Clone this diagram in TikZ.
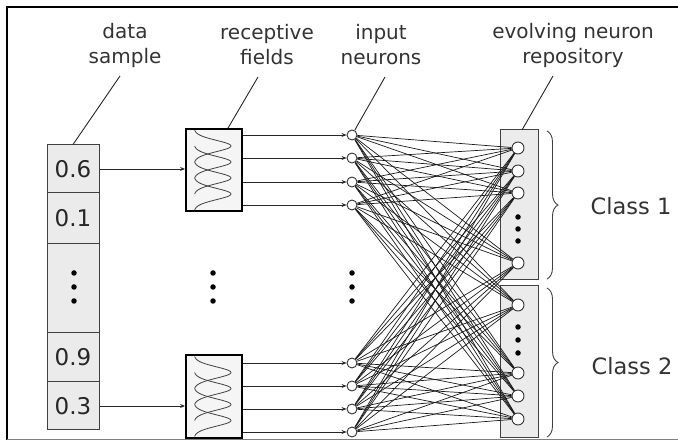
\documentclass[tikz,border=0pt]{standalone}
\usepackage{fontspec}
\setmainfont{DejaVu Sans}
\usetikzlibrary{arrows.meta,decorations.pathreplacing}
\pgfdeclarelayer{bg}
\pgfdeclarelayer{mid}
\pgfsetlayers{bg,mid,main}
\tikzset{
  cell/.style={draw=black!75, line width=1pt, fill=black!8, minimum width=52pt, inner sep=0pt, font=\fontsize{23}{23}\selectfont, text=black!85},
  rfbox/.style={draw=black, line width=1.8pt, fill=black!4, minimum width=56pt, inner sep=0pt},
  inneuron/.style={circle, draw=black!80, line width=0.9pt, fill=white, minimum size=10pt, inner sep=0pt},
  outneuron/.style={circle, draw=black!80, line width=0.9pt, fill=white, minimum size=12pt, inner sep=0pt},
  vdot/.style={circle, fill=black, minimum size=5.5pt, inner sep=0pt},
  repbox/.style={draw=black!75, line width=1pt, fill=black!8, minimum width=38pt, inner sep=0pt},
  lbl/.style={align=center, font=\fontsize{20}{25}\selectfont, text=black!80},
  cls/.style={font=\fontsize{22.5}{25}\selectfont, text=black!80},
  leader/.style={line width=0.9pt, black!85},
  feed/.style={line width=0.9pt, black!85, -{Stealth[length=5pt,width=4pt]}},
  conn/.style={line width=0.7pt, black!90},
  gauss/.style={line width=0.8pt, black!75}
}
\begin{document}
\begin{tikzpicture}[x=1pt,y=-1pt]
\useasboundingbox (0,0) rectangle (678,443);
% frame
\draw[line width=2pt] (7,440) -- (7,7) -- (678,7);
\draw[black!50, line width=1pt] (7,440) -- (678,440);

% data sample column
\node[cell, minimum height=48pt] (d1) at (73,169) {0.6};
\node[cell, minimum height=51pt] (d2) at (73,218.5) {0.1};
\node[cell, minimum height=89pt] (d3) at (73,288.5) {};
\node[cell, minimum height=49pt] (d4) at (73,357.5) {0.9};
\node[cell, minimum height=48pt] (d5) at (73,406) {0.3};
\node[vdot] (dd1) at (74,273) {};
\node[vdot] (dd2) at (74,287) {};
\node[vdot] (dd3) at (74,301) {};

% receptive field boxes
\node[rfbox, minimum height=82pt] (rf1) at (214,170) {};
\node[rfbox, minimum height=83pt] (rf2) at (214,396.5) {};
\foreach \cy in {170,396.5}{
  \begin{scope}[shift={(214,\cy)}]
    \foreach \c in {-24,-8,8,24}{
      \draw[gauss] plot[domain=-16:16, samples=41, smooth] ({-20+37*exp(0-(\x/8)*(\x/8))}, {\c+\x});
    }
  \end{scope}
}
\node[vdot] (rd1) at (213,273) {};
\node[vdot] (rd2) at (213,287) {};
\node[vdot] (rd3) at (213,301) {};

% input neurons
\node[inneuron] (in1) at (352,135) {};
\node[inneuron] (in2) at (352,158) {};
\node[inneuron] (in3) at (352,182) {};
\node[inneuron] (in4) at (352,205) {};
\node[inneuron] (in5) at (352,363) {};
\node[inneuron] (in6) at (352,386) {};
\node[inneuron] (in7) at (352,409) {};
\node[inneuron] (in8) at (352,432) {};
\node[vdot] (id1) at (352,273) {};
\node[vdot] (id2) at (352,287) {};
\node[vdot] (id3) at (352,301) {};

% repository
\begin{pgfonlayer}{bg}
\node[repbox, minimum height=150pt] (rep1) at (519,205) {};
\node[repbox, minimum height=152pt] (rep2) at (519,362) {};
\end{pgfonlayer}
\node[outneuron] (o1) at (518,148) {};
\node[outneuron] (o2) at (518,171) {};
\node[outneuron] (o3) at (518,193) {};
\node[outneuron] (o4) at (518,263) {};
\node[outneuron] (o5) at (518,305) {};
\node[outneuron] (o6) at (518,373) {};
\node[outneuron] (o7) at (518,396) {};
\node[outneuron] (o8) at (518,419) {};
\node[vdot] (od1) at (518,217) {};
\node[vdot] (od2) at (518,229) {};
\node[vdot] (od3) at (518,241) {};
\node[vdot] (od4) at (518,327) {};
\node[vdot] (od5) at (518,340) {};
\node[vdot] (od6) at (518,353) {};

% all-to-all connections
\begin{pgfonlayer}{mid}
\foreach \i in {1,...,8}{
  \foreach \j in {1,...,8}{
    \draw[conn] (in\i) -- (o\j);
  }
}
\end{pgfonlayer}

% feed arrows
\draw[feed] (d1.east) -- (rf1.west |- d1.east);
\draw[feed] (d5.east) -- (rf2.west |- d5.east);
\foreach \k in {1,2,3,4}{ \draw[feed] (rf1.east |- in\k) -- (in\k); }
\foreach \k in {5,6,7,8}{ \draw[feed] (rf2.east |- in\k) -- (in\k); }

% braces and class labels
\draw[black!75, line width=0.9pt, decorate, decoration={brace, amplitude=11pt}] (547,131) -- (547,279);
\draw[black!75, line width=0.9pt, decorate, decoration={brace, amplitude=11pt}] (547,288) -- (547,437);
\node[cls] (c1) at (631,206) {Class 1};
\node[cls] (c2) at (632,366) {Class 2};

% top labels and leaders
\node[lbl] (ldata) at (125,45) {data\\sample};
\node[lbl] (lrf) at (267,45) {receptive\\fields};
\node[lbl] (lin) at (381,45) {input\\neurons};
\node[lbl] (lrep) at (573,45) {evolving neuron\\repository};
\coordinate (a1) at (120,76);
\coordinate (a2) at (258,77);
\coordinate (a3) at (385,77);
\coordinate (a4) at (553,76);
\coordinate (b4) at (522,130);
\draw[leader] (a1) -- (d1.north);
\draw[leader] (a2) -- (rf1.north -| 228,0);
\draw[leader] (a3) -- (in1);
\draw[leader] (a4) -- (b4);
\end{tikzpicture}
\end{document}
